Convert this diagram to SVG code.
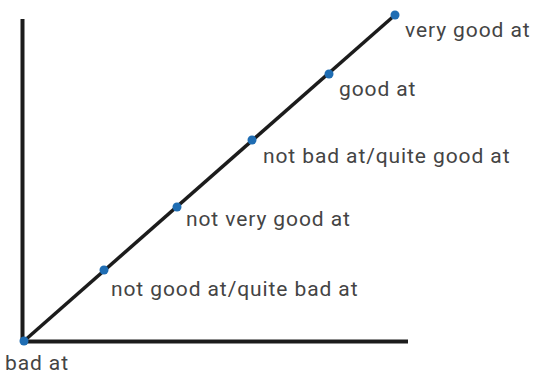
<svg xmlns="http://www.w3.org/2000/svg" width="533" height="374" viewBox="0 0 533 374">
<style>
.axis{stroke:#1c1c1c;stroke-width:4;fill:none}
.diag{stroke:#1c1c1c;stroke-width:3.5;fill:none}
.dot{fill:#1f6db3}
text{font-family:Roboto,"Liberation Sans",sans-serif;font-size:21px;fill:#444;letter-spacing:0.9px}
</style>
<rect width="533" height="374" fill="#fff"/>
<g id="connectors">
<line class="axis" x1="22.5" y1="19" x2="22.5" y2="343"/>
<line class="axis" x1="21" y1="341.5" x2="408" y2="341.5"/>
<line class="diag" x1="24" y1="341" x2="395" y2="15"/>
</g>
<g id="bad-at"><circle class="dot" cx="24" cy="341" r="4.5"/><text x="5" y="370">bad at</text></g>
<g id="not-good-at"><circle class="dot" cx="104" cy="270" r="4.5"/><text x="111" y="296">not good at/quite bad at</text></g>
<g id="not-very-good-at"><circle class="dot" cx="177" cy="207" r="4.5"/><text x="186" y="226">not very good at</text></g>
<g id="not-bad-at"><circle class="dot" cx="252" cy="140" r="4.5"/><text x="263" y="163">not bad at/quite good at</text></g>
<g id="good-at"><circle class="dot" cx="329" cy="74" r="4.5"/><text x="339" y="96">good at</text></g>
<g id="very-good-at"><circle class="dot" cx="395" cy="15" r="4.5"/><text x="405" y="37">very good at</text></g>
</svg>
